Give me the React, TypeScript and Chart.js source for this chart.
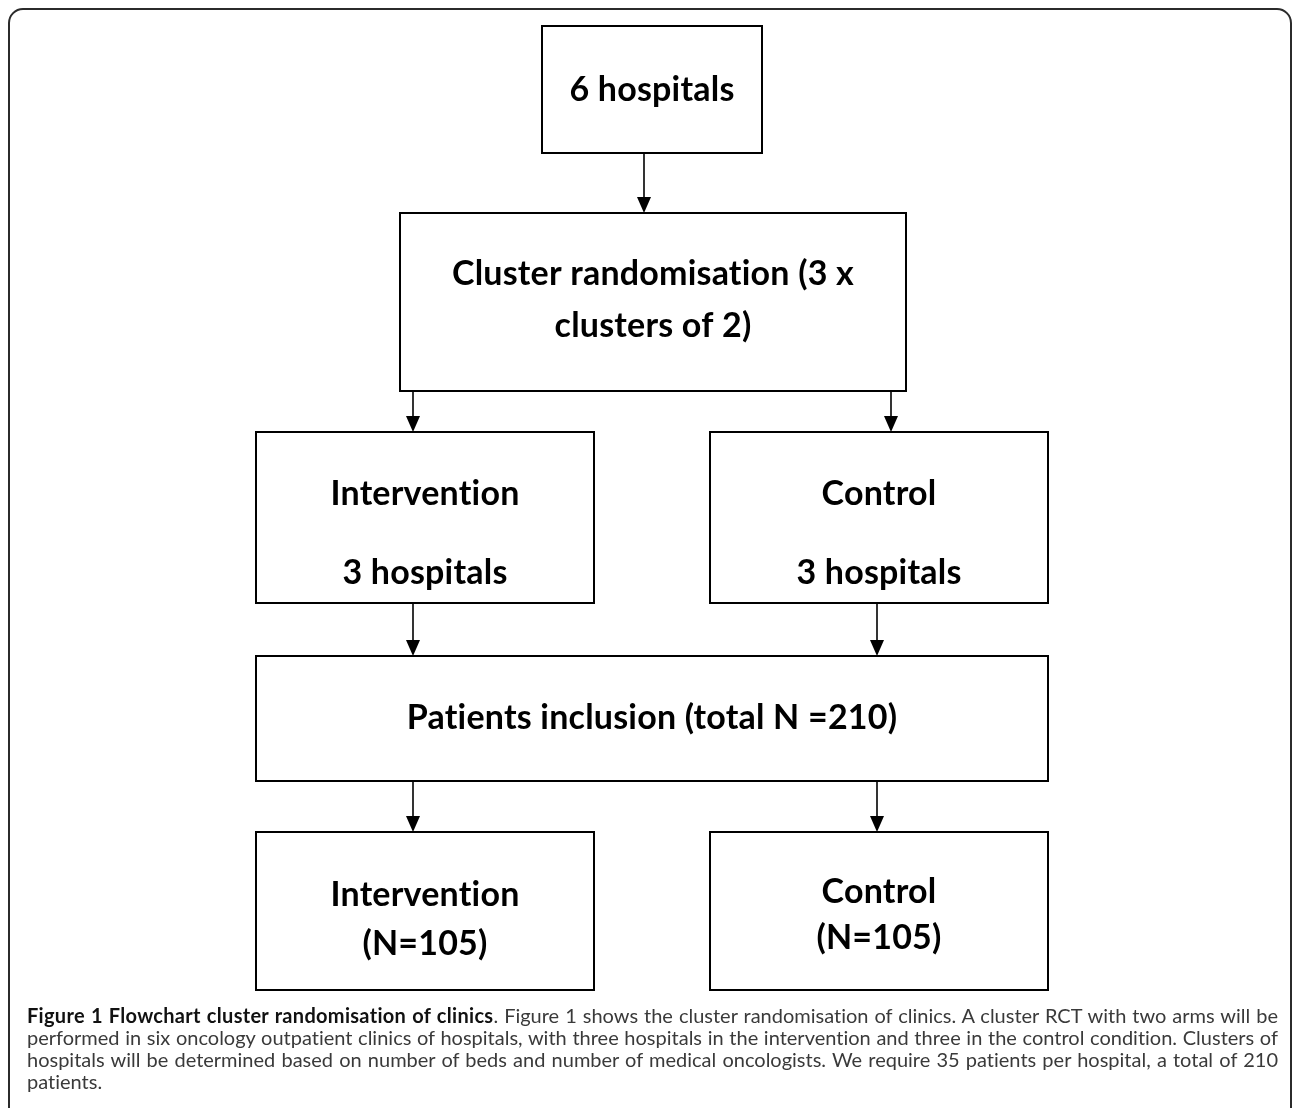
import React, { useEffect, useRef } from "react";
import { Chart, registerables } from "chart.js";

Chart.register(...registerables);

const CANVAS_W = 1293;
const CANVAS_H = 1108;

// Flowchart nodes (values in the chart's own coordinate space)
const nodeLabels: string[][] = [
  ["6 hospitals"],
  ["Cluster randomisation (3 x", "clusters of 2)"],
  ["Intervention", "3 hospitals"],
  ["Control", "3 hospitals"],
  ["Patients inclusion (total N =210)"],
  ["Intervention", "(N=105)"],
  ["Control", "(N=105)"],
];
const nodeLeft = [542, 400, 256, 710, 256, 256, 710];
const nodeRight = [762, 906, 594, 1048, 1048, 594, 1048];
const nodeTop = [26, 213, 432, 432, 656, 832, 832];
const nodeBottom = [153, 391, 603, 603, 781, 990, 990];
const nodeBaselines: number[][] = [
  [101],
  [285, 337],
  [505, 584],
  [505, 584],
  [729],
  [906, 955],
  [903, 949],
];

// Arrows
const arrowX = [644, 413, 891, 413, 877, 413, 877];
const arrowFrom = [153, 391, 391, 603, 603, 781, 781];
const arrowTo = [213, 432, 432, 656, 656, 832, 832];

// Caption
const captionTitle = "Figure 1 Flowchart cluster randomisation of clinics";
const captionLines = [
  ". Figure 1 shows the cluster randomisation of clinics. A cluster RCT with two arms will be",
  "performed in six oncology outpatient clinics of hospitals, with three hospitals in the intervention and three in the control condition. Clusters of",
  "hospitals will be determined based on number of beds and number of medical oncologists. We require 35 patients per hospital, a total of 210",
  "patients.",
];

const flowPlugin = {
  id: "flowchart",
  afterDraw(chart: any) {
    const ctx: CanvasRenderingContext2D = chart.ctx;
    const xs = chart.scales.x;
    const ys = chart.scales.y;
    const px = (v: number) => xs.getPixelForValue(v);
    const py = (v: number) => ys.getPixelForValue(v);
    ctx.save();

    // outer rounded frame
    ctx.strokeStyle = "#2b2b2b";
    ctx.lineWidth = 2;
    const fx0 = px(9), fy0 = py(9), fx1 = px(1291), fy1 = py(1140), r = 14;
    ctx.beginPath();
    ctx.moveTo(fx0, fy1);
    ctx.lineTo(fx0, fy0 + r);
    ctx.arcTo(fx0, fy0, fx0 + r, fy0, r);
    ctx.lineTo(fx1 - r, fy0);
    ctx.arcTo(fx1, fy0, fx1, fy0 + r, r);
    ctx.lineTo(fx1, fy1);
    ctx.stroke();

    // boxes
    ctx.strokeStyle = "#000";
    ctx.lineWidth = 2;
    ctx.fillStyle = "#000";
    ctx.textAlign = "center";
    ctx.textBaseline = "alphabetic";
    ctx.font = "bold 34px Lato, 'Open Sans', sans-serif";
    try {
      (ctx as any).letterSpacing = "0.2px";
    } catch (e) {
      /* ignore */
    }
    for (let i = 0; i < nodeLabels.length; i++) {
      const x0 = px(nodeLeft[i]);
      const x1 = px(nodeRight[i]);
      const y0 = py(nodeTop[i]);
      const y1 = py(nodeBottom[i]);
      ctx.strokeRect(x0, y0, x1 - x0, y1 - y0);
      const cx = (x0 + x1) / 2;
      nodeLabels[i].forEach((line, j) => {
        ctx.fillText(line, cx, py(nodeBaselines[i][j]));
      });
    }

    // arrows
    ctx.lineWidth = 1.6;
    for (let i = 0; i < arrowX.length; i++) {
      const x = px(arrowX[i]);
      const ya = py(arrowFrom[i]);
      const yb = py(arrowTo[i]);
      const head = 16;
      ctx.beginPath();
      ctx.moveTo(x, ya);
      ctx.lineTo(x, yb - head);
      ctx.stroke();
      ctx.beginPath();
      ctx.moveTo(x - 7, yb - head);
      ctx.lineTo(x + 7, yb - head);
      ctx.lineTo(x, yb);
      ctx.closePath();
      ctx.fill();
    }
    ctx.restore();
  },
};

export default function App() {
  const canvasRef = useRef<HTMLCanvasElement | null>(null);

  useEffect(() => {
    if (!canvasRef.current) return;
    const chart = new Chart(canvasRef.current, {
      type: "scatter",
      data: {
        datasets: [
          {
            data: nodeLeft.map((l, i) => ({
              x: (l + nodeRight[i]) / 2,
              y: (nodeTop[i] + nodeBottom[i]) / 2,
            })),
            pointRadius: 0,
            pointHoverRadius: 0,
          },
        ],
      },
      options: {
        responsive: false,
        animation: false,
        events: [],
        layout: { padding: 0 },
        plugins: { legend: { display: false }, tooltip: { enabled: false } },
        scales: {
          x: { type: "linear", min: 0, max: CANVAS_W, display: false },
          y: { type: "linear", min: 0, max: CANVAS_H, reverse: true, display: false },
        },
      },
      plugins: [flowPlugin],
    });
    return () => chart.destroy();
  }, []);

  const lineStyle: React.CSSProperties = {
    textAlign: "justify",
    textAlignLast: "justify" as any,
    height: 22,
    lineHeight: "22px",
  };

  return (
    <div style={{ position: "absolute", left: 0, top: 0, width: CANVAS_W, height: CANVAS_H, background: "#fff" }}>
      <canvas ref={canvasRef} width={CANVAS_W} height={CANVAS_H} style={{ display: "block" }} />
      <div
        style={{
          position: "absolute",
          left: 27,
          top: 1004,
          width: 1251,
          fontFamily: "Lato, 'Open Sans', sans-serif",
          fontSize: 20,
          color: "#3a3a3a",
          fontVariantLigatures: "none",
        }}
      >
        <div style={lineStyle}>
          <span style={{ fontWeight: 700, color: "#111", letterSpacing: "0.3px" }}>{captionTitle}</span>
          {captionLines[0]}
        </div>
        <div style={lineStyle}>{captionLines[1]}</div>
        <div style={lineStyle}>{captionLines[2]}</div>
        <div style={{ ...lineStyle, textAlignLast: "left" as any }}>{captionLines[3]}</div>
      </div>
    </div>
  );
}
